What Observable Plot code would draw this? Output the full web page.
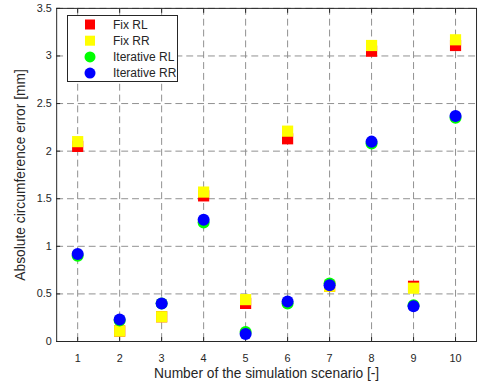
<!DOCTYPE html>
<html>
<head>
<meta charset="utf-8">
<script src="https://cdn.jsdelivr.net/npm/d3@7"></script>
<script src="https://cdn.jsdelivr.net/npm/@observablehq/plot@0.6"></script>
<style>
  html, body { margin: 0; padding: 0; background: #fff; overflow: hidden; }
  #wrap { position: relative; width: 479px; height: 391px; overflow: hidden; }
  #legend { position: absolute; left: 67px; top: 15px; }
  svg text { font-family: "Liberation Sans", Arial, sans-serif; }
</style>
</head>
<body>
<div id="wrap"><div id="chart"></div><svg id="legend" width="112" height="68"></svg></div>
<script>
const scenarios = [1, 2, 3, 4, 5, 6, 7, 8, 9, 10];
const fixRL  = [2.05, 0.11, 0.26, 1.53, 0.40, 2.13, 0.58, 3.05, 0.58, 3.11];
const fixRR  = [2.10, 0.11, 0.26, 1.57, 0.44, 2.21, 0.58, 3.11, 0.56, 3.17];
const iterRL = [0.90, 0.22, 0.40, 1.25, 0.10, 0.40, 0.61, 2.08, 0.38, 2.35];
const iterRR = [0.92, 0.23, 0.40, 1.28, 0.08, 0.42, 0.59, 2.10, 0.37, 2.37];
const yTicks = [0, 0.5, 1, 1.5, 2, 2.5, 3, 3.5];
const seriesNames = ["Fix RL", "Fix RR", "Iterative RL", "Iterative RR"];
const seriesColors = ["#ff0000", "#ffff00", "#00ff00", "#0000ff"];
const seriesSymbols = ["square", "square", "circle", "circle"];
const xLabel = "Number of the simulation scenario [-]";
const yLabel = "Absolute circumference error [mm]";

const seriesValues = [fixRL, fixRR, iterRL, iterRR];
const rows = (vals) => scenarios.map((s, i) => ({s, v: vals[i]}));

const axisColor = "#262626";
const gridStyle = {stroke: "#8f8f8f", strokeOpacity: 1, strokeWidth: 1, strokeDasharray: "7,4"};

const dotMarks = seriesValues.map((vals, k) =>
  Plot.dot(rows(vals), {
    x: "s", y: "v",
    symbol: seriesSymbols[k],
    r: seriesSymbols[k] === "square" ? 6.4 : 6.1,
    fill: seriesColors[k],
    stroke: "none"
  })
);

const chart = Plot.plot({
  width: 486,
  height: 391,
  marginLeft: 57,
  marginRight: 3,
  marginTop: 8,
  marginBottom: 45,
  style: {fontFamily: "'Liberation Sans', Arial, sans-serif", fontSize: "11px", color: axisColor, background: "#fff"},
  x: {domain: [0.5, 10.5], ticks: scenarios},
  y: {domain: [0, 3.5], ticks: yTicks},
  marks: [
    Plot.gridX(scenarios, gridStyle),
    Plot.gridY(yTicks, gridStyle),
    Plot.axisX(scenarios, {anchor: "bottom", tickSize: 0, tickPadding: 13, label: null, fontSize: 11, tickFormat: d => String(d)}),
    Plot.axisX(scenarios, {anchor: "bottom", tickSize: -4, tickFormat: () => "", label: null, stroke: axisColor}),
    Plot.axisX(scenarios, {anchor: "top", tickSize: -4, tickFormat: () => "", label: null, stroke: axisColor}),
    Plot.axisY(yTicks, {anchor: "left", tickSize: 0, tickPadding: 5, label: null, fontSize: 11, tickFormat: d => String(d)}),
    Plot.axisY(yTicks, {anchor: "left", tickSize: -4, tickFormat: () => "", label: null, stroke: axisColor}),
    Plot.frame({stroke: axisColor, strokeWidth: 1}),
    ...dotMarks,
    Plot.text([xLabel], {frameAnchor: "bottom", dy: 33, textAnchor: "middle", lineAnchor: "middle", fontSize: 14, fill: axisColor, text: d => d}),
    Plot.text([yLabel], {frameAnchor: "left", dx: -37, rotate: -90, textAnchor: "middle", lineAnchor: "middle", fontSize: 14, fill: axisColor, text: d => d})
  ]
});
document.getElementById("chart").appendChild(chart);

// Legend (inside the axes, upper left)
const leg = d3.select("#legend");
leg.append("rect").attr("x", 0.5).attr("y", 0.5).attr("width", 110).attr("height", 66)
  .attr("fill", "#fff").attr("stroke", axisColor).attr("stroke-width", 1);
seriesNames.forEach((name, k) => {
  const cy = 9.5 + k * 16.2;
  const g = leg.append("g");
  if (seriesSymbols[k] === "square") {
    g.append("rect").attr("x", 23 - 5).attr("y", cy - 5).attr("width", 10).attr("height", 10).attr("fill", seriesColors[k]);
  } else {
    g.append("circle").attr("cx", 23).attr("cy", cy).attr("r", 5.5).attr("fill", seriesColors[k]);
  }
  g.append("text").attr("x", 46).attr("y", cy).attr("dy", "0.35em")
    .attr("font-size", 12).attr("fill", axisColor).text(name);
});
</script>
</body>
</html>
